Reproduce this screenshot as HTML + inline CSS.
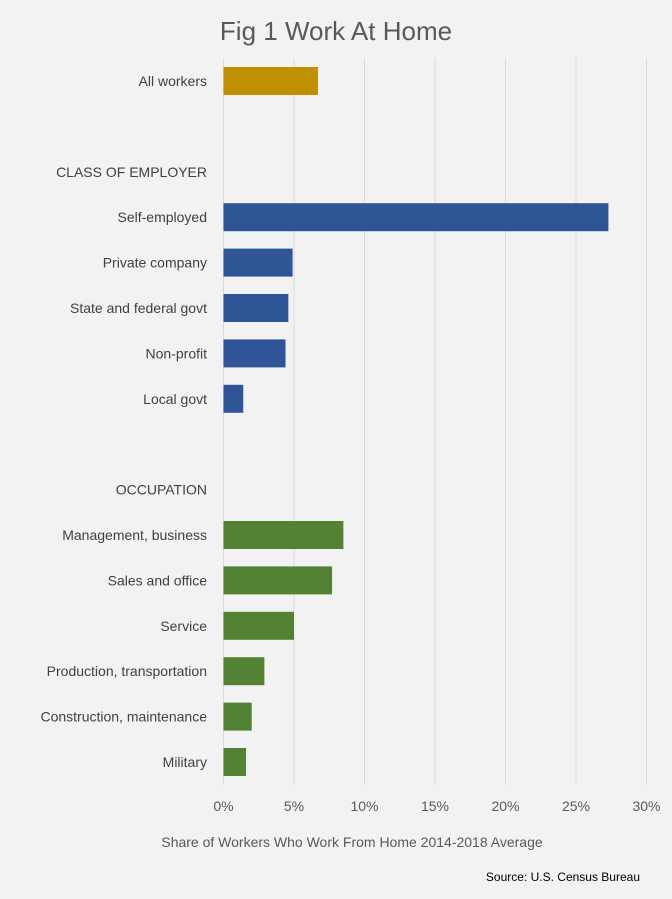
<!DOCTYPE html>
<html><head><meta charset="utf-8"><style>
body{margin:0;background:#f2f2f2;}
svg{display:block;font-family:"Liberation Sans",sans-serif;}
</style></head><body>
<svg width="672" height="899" viewBox="0 0 672 899">
<rect x="0" y="0" width="672" height="899" fill="#f2f2f2"/>
<text x="336" y="40" text-anchor="middle" font-size="26" fill="#595959">Fig 1 Work At Home</text>
<g id="grid"></g><g id="bars"></g><g id="labels"></g><g id="ticks"></g>
<text x="352" y="847" text-anchor="middle" font-size="14" fill="#595959">Share of Workers Who Work From Home 2014-2018 Average</text>
<text x="640" y="881" text-anchor="end" font-size="12" fill="#000">Source: U.S. Census Bureau</text>
</svg>
<script>
const categories=["All workers","","CLASS OF EMPLOYER","Self-employed","Private company","State and federal govt","Non-profit","Local govt","","OCCUPATION","Management, business","Sales and office","Service","Production, transportation","Construction, maintenance","Military"];
const values=[6.7,null,null,27.3,4.9,4.6,4.4,1.4,null,null,8.5,7.7,5.0,2.9,2.0,1.6];
const groups=["all","","","class","class","class","class","class","","","occ","occ","occ","occ","occ","occ"];
const tickValues=[0,5,10,15,20,25,30];
const tickLabels=["0%","5%","10%","15%","20%","25%","30%"];
const colors={all:"#bf9000",class:"#2f5597",occ:"#548235"};
const NS="http://www.w3.org/2000/svg";
const x=v=>223.5+v*14.1;
const y=i=>81+i*45.4;
function mk(tag,attrs,parent,text){const e=document.createElementNS(NS,tag);for(const k in attrs)e.setAttribute(k,attrs[k]);if(text!==undefined)e.textContent=text;document.getElementById(parent).appendChild(e);return e;}
tickValues.forEach((t,i)=>{
 const g=mk("line",{x1:x(t),x2:x(t),y1:58,y2:785,stroke:"#d9d9d9","stroke-width":1},"grid");
 
 
 const l=mk("text",{x:x(t),y:811,"text-anchor":"middle","font-size":14,fill:"#595959"},"ticks",tickLabels[i]);
 
 
});
categories.forEach((c,i)=>{
 if(c){
  const hdr=values[i]===null;
  const t=mk("text",{x:hdr?207:207,y:y(i)+5,"text-anchor":"end","font-size":14,fill:"#404040"},"labels",c);
  
  
 }
 if(values[i]!==null){
  const b=mk("rect",{x:x(0),y:y(i)-14,width:x(values[i])-x(0),height:28,fill:colors[groups[i]]},"bars");
  
  
 }
});
</script>
</body></html>
